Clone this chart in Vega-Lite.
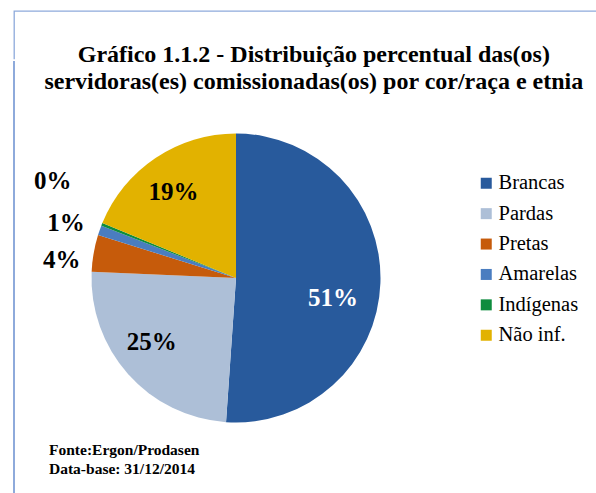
{
  "$schema": "https://vega.github.io/schema/vega-lite/v6.json",
  "autosize": {"type": "pad"},
  "padding": {"left": 13, "top": 10, "right": 0, "bottom": 0},
  "background": "white",
  "title": {
    "text": ["Gráfico 1.1.2 - Distribuição percentual das(os)", "servidoras(es) comissionadas(os) por cor/raça e etnia"],
    "font": "Liberation Serif", "fontSize": 24, "fontWeight": "bold", "color": "black",
    "lineHeight": 27, "anchor": "middle", "offset": -84, "dx": 9
  },
  "spacing": 0,
  "resolve": {"scale": {"color": "independent"}, "legend": {"color": "independent"}},
  "vconcat": [
    {
      "width": 582, "height": 48,
      "view": {"stroke": "#8EAADB", "strokeWidth": 1.3, "strokeDash": [582, 630, 48, 0]},
      "data": {"values": []},
      "mark": {"type": "text"},
      "encoding": {}
    },
    {
      "width": 444, "height": 434,
      "view": {"stroke": "#8EAADB", "strokeWidth": 2, "strokeDash": [0, 1322, 434, 0]},
      "title": {
        "text": ["Fonte:Ergon/Prodasen", "Data-base: 31/12/2014"],
        "orient": "bottom", "anchor": "start", "font": "Liberation Serif", "fontSize": 15.5,
        "fontWeight": "bold", "color": "black", "lineHeight": 18.5, "offset": -52, "dx": 35
      },
      "data": {"values": [
        {"cor": "Brancas", "pct": 51.1, "rotulo": "51%"},
        {"cor": "Pardas", "pct": 24.6, "rotulo": "25%"},
        {"cor": "Pretas", "pct": 4.1, "rotulo": "4%"},
        {"cor": "Amarelas", "pct": 1.1, "rotulo": "1%"},
        {"cor": "Indígenas", "pct": 0.3, "rotulo": "0%"},
        {"cor": "Não inf.", "pct": 18.8, "rotulo": "19%"}
      ]},
      "transform": [{"window": [{"op": "row_number", "as": "idx"}]}],
      "encoding": {
        "theta": {"field": "pct", "type": "quantitative", "stack": true},
        "order": {"field": "idx", "type": "quantitative"}
      },
      "layer": [
        {
          "mark": {"type": "arc", "outerRadius": 144.5},
          "encoding": {
            "color": {
              "field": "cor", "type": "nominal",
              "scale": {
                "domain": ["Brancas", "Pardas", "Pretas", "Amarelas", "Indígenas", "Não inf."],
                "range": ["#285A9C", "#ADBFD7", "#C65B0B", "#4A7DC0", "#0E8C3E", "#E2B200"]
              },
              "legend": {
                "orient": "none", "legendX": 462, "legendY": 112, "title": null,
                "symbolType": "square", "symbolSize": 121, "symbolStrokeWidth": 0,
                "labelFont": "Liberation Serif", "labelFontSize": 20.5, "labelColor": "black",
                "rowPadding": 9.4, "labelOffset": 2, "padding": 0
              }
            }
          }
        },
        {
          "mark": {"type": "text", "radius": 105, "dx": -4, "dy": 1, "font": "Liberation Serif", "fontSize": 25, "fontWeight": "bold", "color": "black"},
          "encoding": {"text": {"condition": {"test": "datum.cor === 'Não inf.'", "field": "rotulo"}, "value": ""}}
        },
        {
          "mark": {"type": "text", "radius": 105, "dx": -6, "dy": -6, "font": "Liberation Serif", "fontSize": 25, "fontWeight": "bold", "color": "black"},
          "encoding": {"text": {"condition": {"test": "datum.cor === 'Pardas'", "field": "rotulo"}, "value": ""}}
        },
        {
          "mark": {"type": "text", "radius": 105, "dx": -8, "dy": 16, "font": "Liberation Serif", "fontSize": 25, "fontWeight": "bold", "color": "white"},
          "encoding": {"text": {"condition": {"test": "datum.cor === 'Brancas'", "field": "rotulo"}, "value": ""}}
        },
        {
          "mark": {"type": "text", "radius": 177, "dx": 0, "dy": 12, "font": "Liberation Serif", "fontSize": 25, "fontWeight": "bold", "color": "black"},
          "encoding": {"text": {"condition": {"test": "datum.cor === 'Pretas'", "field": "rotulo"}, "value": ""}}
        },
        {
          "mark": {"type": "text", "radius": 177, "dx": -3, "dy": 3, "font": "Liberation Serif", "fontSize": 25, "fontWeight": "bold", "color": "black"},
          "encoding": {"text": {"condition": {"test": "datum.cor === 'Amarelas'", "field": "rotulo"}, "value": ""}}
        },
        {
          "mark": {"type": "text", "radius": 177, "dx": -19, "dy": -31, "font": "Liberation Serif", "fontSize": 25, "fontWeight": "bold", "color": "black"},
          "encoding": {"text": {"condition": {"test": "datum.cor === 'Indígenas'", "field": "rotulo"}, "value": ""}}
        }
      ]
    }
  ],
  "config": {"view": {"stroke": null}}
}
